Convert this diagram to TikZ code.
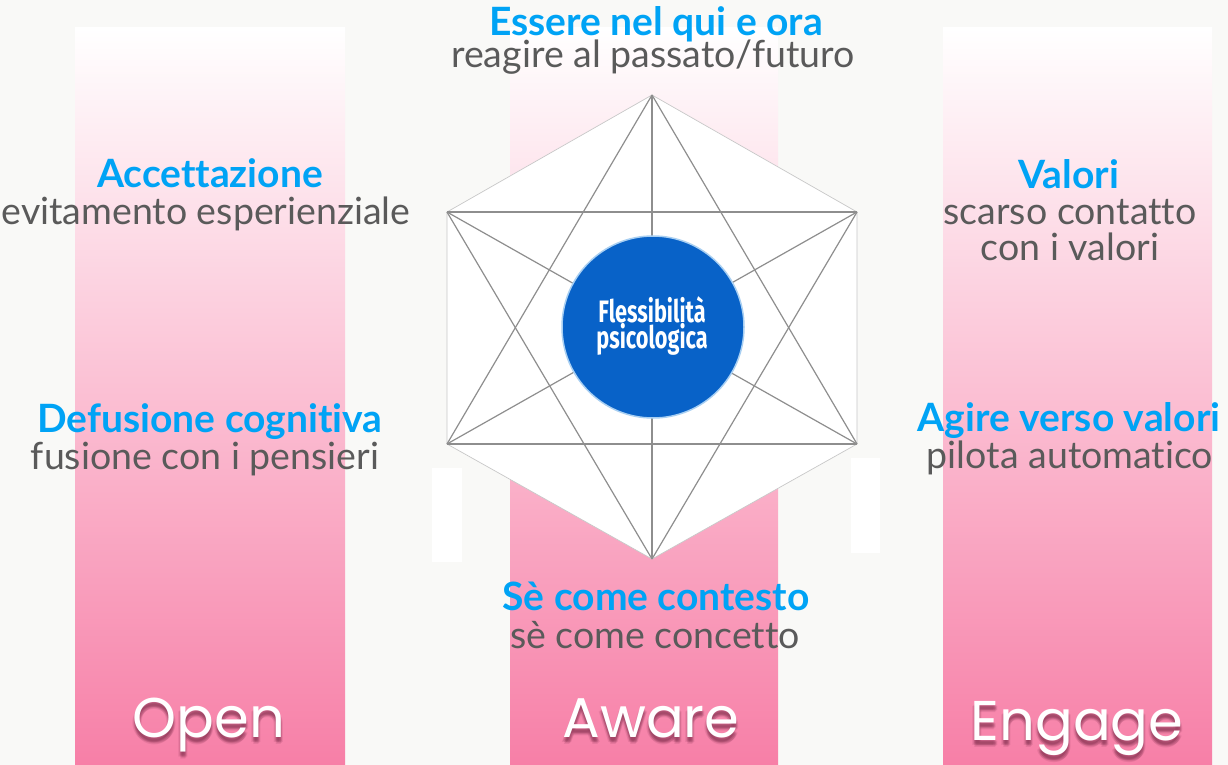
\documentclass[tikz,border=0pt]{standalone}
\usepackage{fontspec}
\setmainfont{Lato}[Ligatures={NoCommon,NoRequired,NoContextual}]
\newfontfamily\labfont{Poppins}
\newfontfamily\condfont{Fira Sans}
\usetikzlibrary{calc}
\definecolor{bg}{HTML}{F9F9F7}
\definecolor{pinkbot}{HTML}{F77FA7}
\definecolor{ttl}{HTML}{00A3F5}
\definecolor{subc}{HTML}{5A5A5A}
\definecolor{hexline}{HTML}{8E8E8E}
\definecolor{hexedge}{HTML}{C8C8C8}
\definecolor{circ}{HTML}{0862C8}
\definecolor{glow}{HTML}{A8CFF2}
\definecolor{shad}{HTML}{7A2A48}
\newcommand{\nl}{\kern0pt}
\begin{document}
\begin{tikzpicture}[x=1pt,y=-1pt,
  title/.style={text=ttl, font=\bfseries\fontsize{39}{39}\selectfont, inner sep=0pt, anchor=base},
  subt/.style={text=subc, font=\fontsize{37.5}{37.5}\selectfont, inner sep=0pt, anchor=base},
  colbar/.style={top color=white, bottom color=pinkbot, draw=none},
  starline/.style={draw=hexline, line width=1.2pt},
  bigword/.style={text=white, font=\labfont\fontsize{56}{56}\selectfont, inner sep=0pt, anchor=base},
  bigshadow/.style={text=shad, opacity=0.13, font=\labfont\fontsize{56}{56}\selectfont, inner sep=0pt, anchor=base},
  circtext/.style={text=white, font=\condfont\bfseries\fontsize{31}{24}\selectfont, inner sep=0pt, align=center}
]
% background
\fill[bg] (0,0) rectangle (1228,765);
\useasboundingbox (0,0) rectangle (1228,765);

% columns
\shade[colbar] (75,28) rectangle (345,765);
\shade[colbar] (510,28) rectangle (778,765);
\shade[colbar] (943,28) rectangle (1212,765);

% small white boxes
\fill[white] (432,468) rectangle (462,562);
\fill[white] (851,458) rectangle (880,553);

% hexagon
\coordinate (T) at (652,95);
\coordinate (UR) at (857,212);
\coordinate (LR) at (857,444);
\coordinate (B) at (652,559);
\coordinate (LL) at (447,444);
\coordinate (UL) at (447,212);
\fill[white] (T) -- (UR) -- (LR) -- (B) -- (LL) -- (UL) -- cycle;
\draw[hexedge, line width=0.7pt] (T) -- (UR) -- (LR) -- (B) -- (LL) -- (UL) -- cycle;
\draw[starline] (T) -- (B);
\draw[starline] (UL) -- (UR);
\draw[starline] (LL) -- (LR);
\draw[starline] (T) -- (LL);
\draw[starline] (T) -- (LR);
\draw[starline] (B) -- (UL);
\draw[starline] (B) -- (UR);
\draw[starline] (UL) -- (LR);
\draw[starline] (UR) -- (LL);

% central circle
\node[circle, fill=circ, draw=glow, line width=1.5pt, minimum size=182pt, inner sep=0pt] (C) at (653,327) {};
\node[circtext] (ct) at (652,326) {\scalebox{0.70}[1]{Flessibilità}\\\scalebox{0.70}[1]{psicologica}};

% texts
\node[title] (t1) at (656,36) {Essere nel qui e ora};
\node[subt, yshift=-1pt] (s1) at (653,67) {reagire al passato/futuro};

\node[title] (t2) at (210,187) {Accet\nl tazione};
\node[subt] (s2) at (206,224) {evitamento esperienziale};

\node[title] (t3) at (210,432) {Defusione cognit\nl iva};
\node[subt] (s3) at (205,469) {fusione con i pensieri};

\node[title] (t4) at (656,610) {Sè come contesto};
\node[subt] (s4) at (655,648) {sè come concet\nl to};

\node[title] (t5) at (1069,188) {Valori};
\node[subt] (s5a) at (1070,224) {scarso contat\nl t\nl o};
\node[subt] (s5b) at (1070,260) {con i valori};

\node[title] (t6) at (1069,431) {Agire verso valori};
\node[subt] (s6) at (1070,468) {pilota automat\nl ico};

% big words with soft shadow
\foreach \dx/\dy in {0/3,1/4,-1/4,0/5,2/5,-2/5,1/6,0/7} {
  \node[bigshadow] at (209+\dx,737+\dy) {Open};
  \node[bigshadow] at (651+\dx,737+\dy) {Aware};
  \node[bigshadow] at (1077+\dx,740+\dy) {Engage};
}
\node[bigword] (w1) at (209,737) {Open};
\node[bigword] (w2) at (651,737) {Aware};
\node[bigword] (w3) at (1077,740) {Engage};
\end{tikzpicture}
\end{document}
